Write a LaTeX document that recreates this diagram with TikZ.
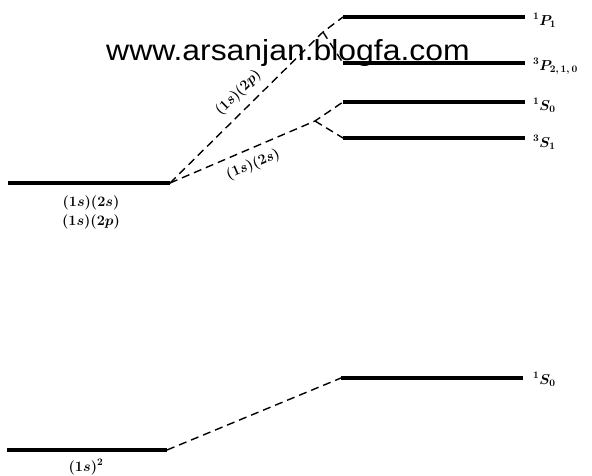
\documentclass[tikz,border=0pt]{standalone}
\usepackage{amsmath}
\usepackage{fontspec}
\newfontfamily\markfont{Liberation Sans}
\usetikzlibrary{positioning}

\begin{document}
\begin{tikzpicture}[x=1pt, y=-1pt,
    level/.style={line width=3.2pt},
    link/.style={line width=1.4pt, dash pattern=on 8pt off 5pt},
    term/.style={anchor=base west, inner sep=0pt,
                 font=\fontsize{14}{16}\selectfont\boldmath},
    config/.style={inner sep=1pt, font=\fontsize{14}{16}\selectfont\boldmath},
    watermark/.style={anchor=base west, inner sep=0pt, xscale=1.1,
                      font=\markfont\fontsize{29}{31}\selectfont},
]
\useasboundingbox (0,0) rectangle (592,475);
% configurations
\coordinate (exA) at (8,183);   \coordinate (exB) at (170,183);
\coordinate (gsA) at (7,450);   \coordinate (gsB) at (167,450);
% terms
\coordinate (P1A) at (343,17);  \coordinate (P1B) at (525,17);
\coordinate (P3A) at (343,63);  \coordinate (P3B) at (525,63);
\coordinate (S1A) at (343,102); \coordinate (S1B) at (525,102);
\coordinate (S3A) at (343,138); \coordinate (S3B) at (525,138);
\coordinate (S0A) at (341,378); \coordinate (S0B) at (523,378);
% branch points
\coordinate (pj) at (323,32);
\coordinate (sj) at (315,121);

\foreach \a/\b in {exA/exB, gsA/gsB, P1A/P1B, P3A/P3B, S1A/S1B, S3A/S3B, S0A/S0B}
  \draw[level] (\a) -- (\b);

% correlation lines
\draw[link] (exB) -- node[config, sloped, above=7pt, pos=0.52] (lp) {$(1s)(2p)$} (pj) -- (P1A);
\draw[link] (pj) -- (P3A);
\draw[link] (exB) -- node[config, sloped, below=7pt, pos=0.53] (ls) {$(1s)(2s)$} (sj) -- (S1A);
\draw[link] (sj) -- (S3A);
\draw[link] (gsB) -- (S0A);

% labels
\node[config] (c2s) at (91,203) {$(1s)(2s)$};
\node[config] (c2p) at (91,222) {$(1s)(2p)$};
\node[config] (c1s) at (86,467) {$(1s)^2$};
\node[term] (tP1) at (533,25)  {$^1P_1$};
\node[term] (tP3) at (533,70)  {$^3P_{2,\,1,\,0}$};
\node[term] (tS1) at (533,110) {$^1S_0$};
\node[term] (tS3) at (533,147) {$^3S_1$};
\node[term] (tS0) at (533,384) {$^1S_0$};

\node[watermark] (wm) at (106,60) {www.arsanjan.blogfa.com};
\end{tikzpicture}
\end{document}
